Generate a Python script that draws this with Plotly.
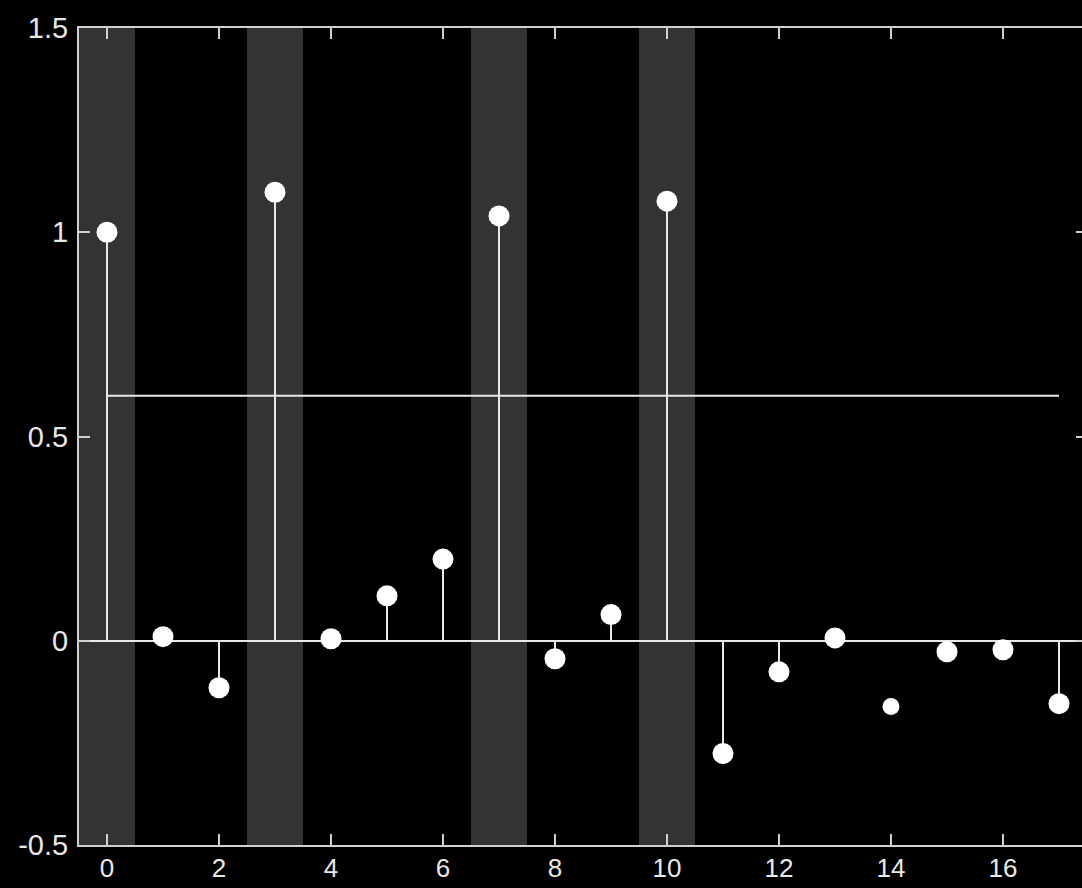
import plotly.graph_objects as go

lags = list(range(18))
values = [1.0, 0.01, -0.115, 1.098, 0.005, 0.11, 0.2, 1.04, -0.044, 0.064,
          1.076, -0.276, -0.076, 0.007, -0.161, -0.027, -0.022, -0.154]
stemless = [14]  # point drawn without a stem
highlighted = [0, 3, 7, 10]
threshold = 0.6
x_ticks = list(range(0, 17, 2))
y_ticks = [-0.5, 0, 0.5, 1, 1.5]
y_labels = ["-0.5", "0", "0.5", "1", "1.5"]

fg = "#e8e8e8"
fig = go.Figure()

# stems
sx, sy = [], []
for x, v in zip(lags, values):
    if x in stemless:
        continue
    sx += [x, x, None]
    sy += [0, v, None]
fig.add_trace(go.Scatter(x=sx, y=sy, mode="lines", line=dict(color=fg, width=2),
                         hoverinfo="skip", showlegend=False))

# threshold line
fig.add_trace(go.Scatter(x=[lags[0], lags[-1]], y=[threshold, threshold], mode="lines",
                         line=dict(color=fg, width=2), showlegend=False))

# markers
mx = [x for x in lags if x not in stemless]
my = [v for x, v in zip(lags, values) if x not in stemless]
fig.add_trace(go.Scatter(x=mx, y=my, mode="markers",
                         marker=dict(color="white", size=21, line=dict(width=0)),
                         showlegend=False))
fig.add_trace(go.Scatter(x=stemless, y=[values[i] for i in stemless], mode="markers",
                         marker=dict(color="white", size=17, line=dict(width=0)),
                         showlegend=False))

for h in highlighted:
    fig.add_shape(type="rect", xref="x", yref="y", x0=h - 0.5, x1=h + 0.5,
                  y0=-0.5, y1=1.5, fillcolor="#333333", line=dict(width=0), layer="below")

axis_common = dict(showgrid=False, showline=True, linecolor="#d0d0d0", linewidth=2,
                   mirror="ticks", ticks="inside", ticklen=11, tickwidth=2, tickcolor="#d0d0d0",
                   automargin=False)

fig.update_layout(
    width=1092, height=888,
    margin=dict(l=79, r=5, t=28, b=43),
    paper_bgcolor="black", plot_bgcolor="black",
    xaxis=dict(range=[-0.5, 17.5], tickvals=x_ticks, zeroline=False,
               ticklabelstandoff=-1,
               tickfont=dict(family="Liberation Sans", size=26, color=fg), **axis_common),
    yaxis=dict(range=[-0.5, 1.5], tickvals=y_ticks, ticktext=y_labels,
               zeroline=True, zerolinecolor=fg, zerolinewidth=2,
               ticklabelstandoff=3,
               tickfont=dict(family="Liberation Sans", size=29, color=fg), **axis_common),
)

fig.write_html("out.html", config={"displayModeBar": False},
               post_script="document.body.style.margin='0';document.body.style.overflow='hidden';document.documentElement.style.overflow='hidden';")
